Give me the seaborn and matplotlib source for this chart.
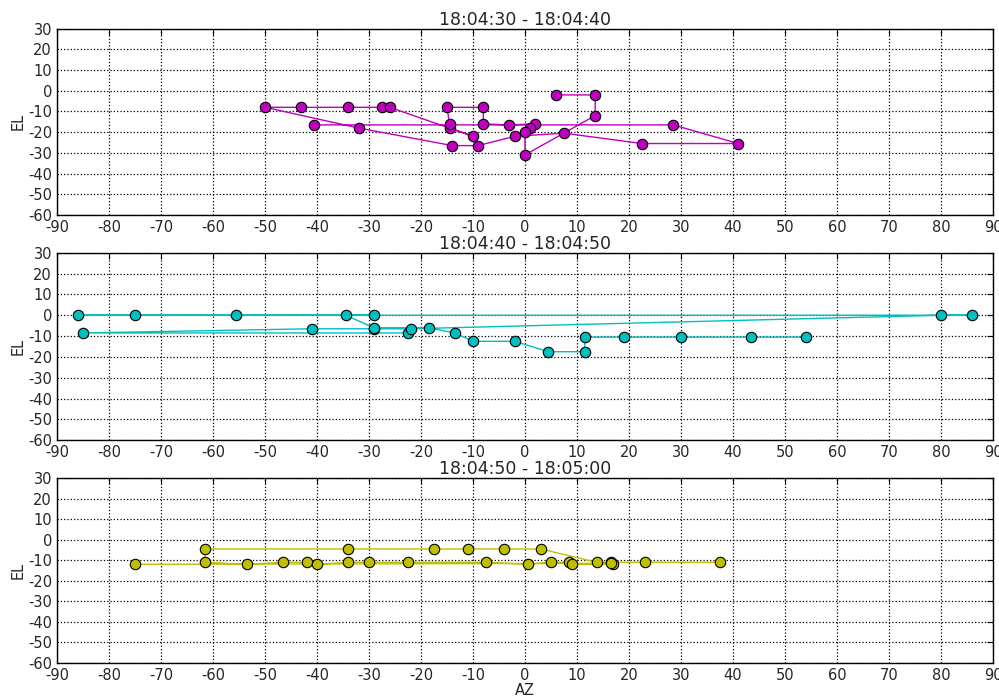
import numpy as np
import pandas as pd
import matplotlib
matplotlib.use("Agg")
import matplotlib.pyplot as plt
import seaborn as sns

# -------------------------------
# Data (AZ / EL pointing samples, in time order)
# -------------------------------
titles = ["18:04:30 - 18:04:40", "18:04:40 - 18:04:50", "18:04:50 - 18:05:00"]
colors = ["#bf00bf", "#00bfbf", "#bfbf00"]

az_1 = [-40.5, 28.5, 41, 22.5, 7.5, -2, -9, -14, -32, -50, -43, -34, -27.5, -26,
        -10, -14.5, -14.5, -15, -8, -8, -3, 2, 1, 0, 0, 13.5, 13.5, 6]
el_1 = [-16.5, -16.5, -25.5, -25.5, -20.5, -22, -26.5, -26.5, -18, -8, -8, -8, -8, -8,
        -22, -18, -16, -8, -8, -16, -16.5, -16, -18, -20, -31, -12, -2, -2]

az_2 = [-22.5, -85, -41, -29, -22, 80, 86, -86, -75, -55.5, -29, -34.5, -29,
        -18.5, -13.5, -10, -2, 4.5, 11.5, 11.5, 19, 30, 43.5, 54]
el_2 = [-8.5, -8.5, -6.5, -6.5, -6.5, 0, 0, 0, 0, 0, 0, 0, -6,
        -6, -8.5, -12.5, -12.5, -17.5, -17.5, -10.5, -10.5, -10.5, -10.5, -10.5]

az_3 = [37.5, 23, 16.5, 13.8, 3, -4, -11, -17.5, -34, -61.5, -61.5, -53.5, -46.5, -42,
        -40, -34, -30, -22.5, -7.5, 0.5, 5, 8.5, 9, 17, 16.5, -75]
el_3 = [-11, -11, -11, -11, -4.5, -4.5, -4.5, -4.5, -4.5, -4.5, -11, -12, -11, -11,
        -12, -11, -11, -11, -11, -12, -11, -11, -12, -12, -11.5, -12]

panels = [(az_1, el_1), (az_2, el_2), (az_3, el_3)]

# -------------------------------
# Plot
# -------------------------------
sns.set_style("white")
plt.rcParams['font.family'] = ['DejaVu Sans']
plt.rcParams['axes.unicode_minus'] = False

fig = plt.figure(figsize=(9.99, 7.0), dpi=100)
boxes = [[0.057, 0.693, 0.937, 0.266],
         [0.057, 0.371, 0.937, 0.268],
         [0.057, 0.053, 0.937, 0.264]]

for i, ((az, el), box) in enumerate(zip(panels, boxes)):
    ax = fig.add_axes(box)
    df = pd.DataFrame({"AZ": az, "EL": el})
    sns.lineplot(data=df, x="AZ", y="EL", sort=False, estimator=None,
                 color=colors[i], linewidth=1.0, marker="o", markersize=7.5,
                 markeredgecolor="black", markeredgewidth=0.8, ax=ax)
    ax.set_xlim(-90, 90)
    ax.set_ylim(-60, 30)
    ax.set_xticks(np.arange(-90, 91, 10))
    ax.set_yticks(np.arange(-60, 31, 10))
    ax.grid(True, color="black", linestyle=":", linewidth=0.9)
    ax.tick_params(direction="in", length=4, labelsize=10.5, color="black",
                   top=True, right=True)
    for s in ax.spines.values():
        s.set_color("black")
        s.set_linewidth(1.0)
    ax.set_title(titles[i], fontsize=12.5, pad=3)
    ax.set_ylabel("EL", fontsize=10.5, labelpad=2)
    if i == 2:
        ax.set_xlabel("AZ", fontsize=10.5, labelpad=0)
    else:
        ax.set_xlabel("")

plt.savefig("out.png", dpi=100)
